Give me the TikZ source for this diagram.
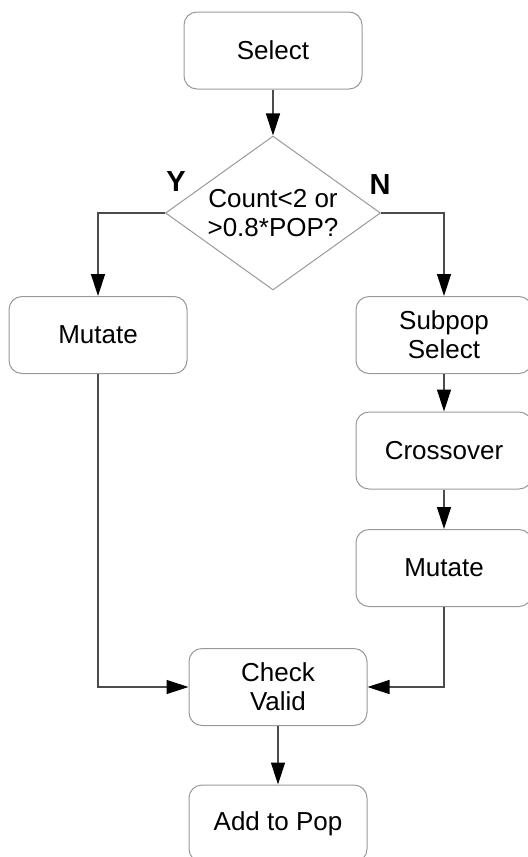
\documentclass[tikz,border=0pt]{standalone}
\usepackage{fontspec}
\setmainfont{Liberation Sans}
\usetikzlibrary{shapes.geometric,arrows.meta}

\tikzset{
        box/.style = {draw=black!40, line width=0.5pt, rounded corners=6.5pt, minimum width=89pt, minimum height=38.5pt, align=center, font=\fontsize{13}{14.5}\selectfont},
        decision/.style = {diamond, draw=black!40, line width=0.5pt, aspect=1.4, inner sep=0pt, minimum width=107.5pt, minimum height=77pt, align=center, font=\fontsize{13}{14.5}\selectfont},
        flow/.style = {draw=black!70, line width=0.7pt, -{Triangle[length=11pt, width=7pt, black]}},
        yn/.style = {font=\fontsize{14.5}{16}\selectfont\bfseries}
}

\begin{document}
\begin{tikzpicture}[x=0.5pt, y=-0.5pt]
                \useasboundingbox (0,0) rectangle (528,857);
                \node[box] (select) at (273,50.5) {Select};
                \node[decision] (cond) at (273,213) {Count<2 or\\>0.8*POP?};
                \node[yn] (yes) at (176,182) {Y};
                \node[yn] (no) at (380,185) {N};
                \node[box] (mutL) at (98,335) {Mutate};
                \node[box, minimum width=88pt] (subpop) at (444,335) {Subpop\\Select};
                \node[box, minimum width=88pt] (cross) at (444,450.5) {Crossover};
                \node[box, minimum width=88pt] (mutR) at (444,568) {Mutate};
                \node[box] (check) at (278,687) {Check\\Valid};
                \node[box] (add) at (278,823.5) {Add to Pop};

                \draw[flow] (select) -- (cond);
                \draw[flow] (cond.west) -| (mutL);
                \draw[flow] (cond.east) -| (subpop);
                \draw[flow] (subpop) -- (cross);
                \draw[flow] (cross) -- (mutR);
                \draw[flow] (mutL) |- (check);
                \draw[flow] (mutR) |- (check);
                \draw[flow] (check) -- (add);
        \end{tikzpicture}
\end{document}
